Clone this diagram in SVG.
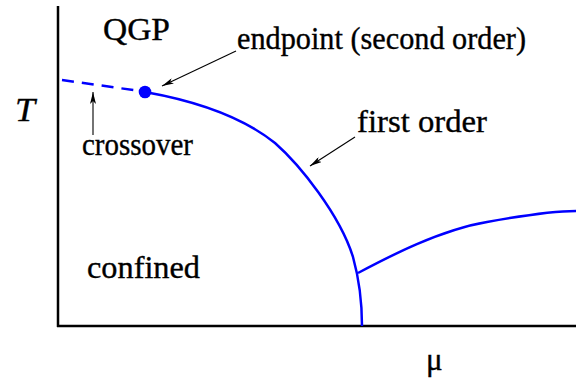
<svg xmlns="http://www.w3.org/2000/svg" width="576" height="380" viewBox="0 0 576 380">
<style>
.lbl{font-family:'Liberation Serif','Times New Roman',serif;font-size:31px;fill:#000;stroke:#000;stroke-width:0.35}
.axis{stroke:#000;stroke-width:2.5;fill:none}
.phase{stroke:#0000ff;stroke-width:2.5;fill:none}
.ptr{stroke:#000;stroke-width:1.1;fill:none;marker-end:url(#ah)}
</style>
<defs>
<marker id="ah" viewBox="0 0 12 6" refX="12" refY="3" markerWidth="12" markerHeight="6" markerUnits="userSpaceOnUse" orient="auto">
<path d="M0,0 L12,3 L0,6 L3,3 Z" fill="#000"/>
</marker>
</defs>
<g id="axes">
<line class="axis" x1="58" y1="6" x2="58" y2="327"/>
<line class="axis" x1="57" y1="326" x2="576" y2="326"/>
<text id="T-label" class="lbl" x="15" y="121" style="font-style:italic;font-size:34px" textLength="20" lengthAdjust="spacingAndGlyphs">T</text>
<text id="mu-label" class="lbl" x="426" y="370">μ</text>
</g>
<g id="phase-lines">
<path id="crossover-line" class="phase" d="M62,80 L140,91" stroke-dasharray="12,8"/>
<path id="first-order-line" class="phase" d="M145,92 C190,100 240,115 275,143 C300,165 340,215 353,257 C358,275 362,300 362,326"/>
<path id="branch-line" class="phase" d="M358,273 C390,256 440,230 487,222 C520,216 550,211 576,211"/>
</g>
<g id="endpoint">
<circle cx="145" cy="92" r="6.3" fill="#0000ff"/>
</g>
<g id="connectors">
<line class="ptr" x1="93" y1="135" x2="93" y2="92"/>
<line class="ptr" x1="236" y1="51" x2="162" y2="86"/>
<line class="ptr" x1="355" y1="137" x2="310" y2="166"/>
</g>
<g id="labels">
<text id="qgp" class="lbl" x="103" y="40" textLength="67" lengthAdjust="spacingAndGlyphs">QGP</text>
<text id="endpoint-label" class="lbl" x="237" y="49" textLength="289" lengthAdjust="spacingAndGlyphs">endpoint (second order)</text>
<text id="crossover-label" class="lbl" x="82" y="155" textLength="111" lengthAdjust="spacingAndGlyphs">crossover</text>
<text id="first-order-label" class="lbl" x="357" y="132" textLength="130" lengthAdjust="spacingAndGlyphs">first order</text>
<text id="confined-label" class="lbl" x="87" y="278" textLength="113" lengthAdjust="spacingAndGlyphs">confined</text>
</g>
</svg>
